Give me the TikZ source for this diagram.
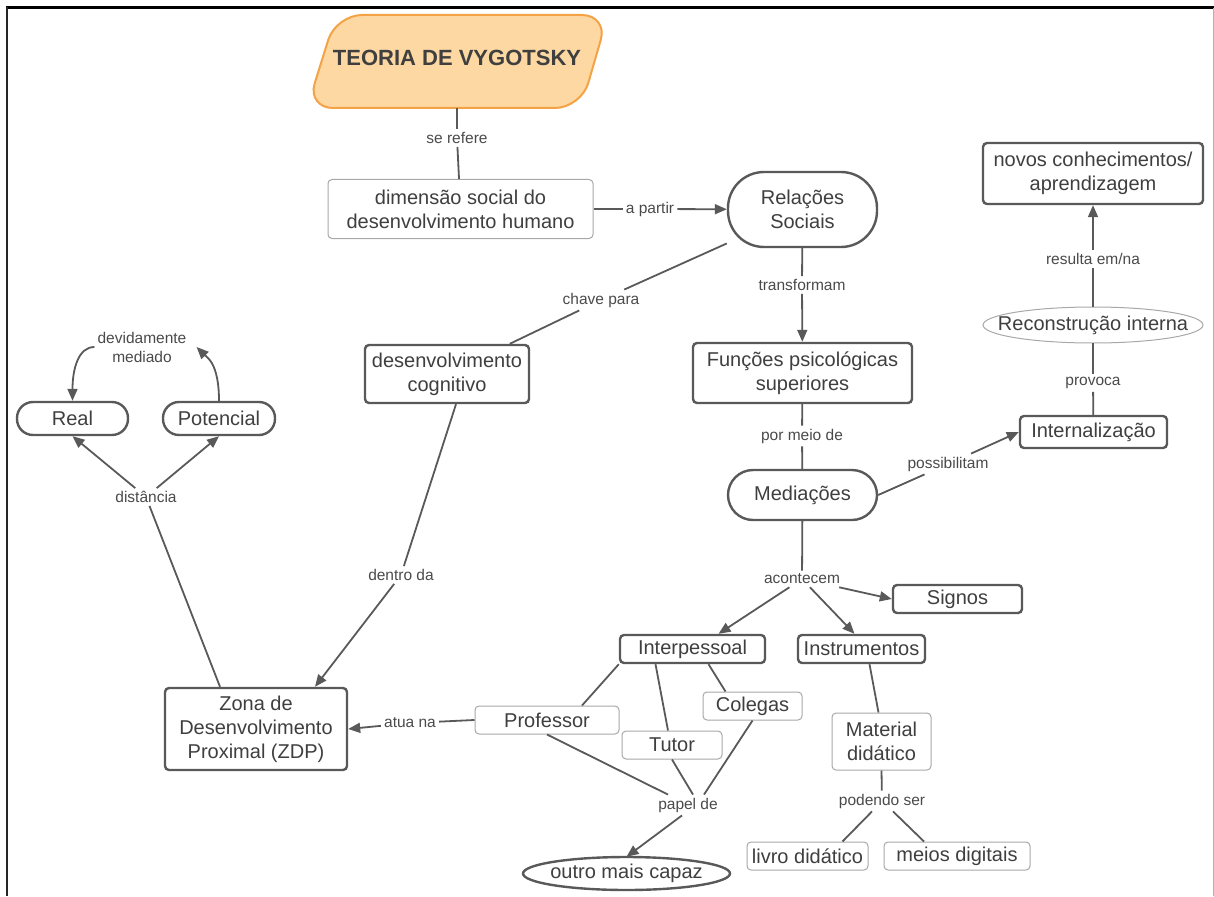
\documentclass[tikz,border=0pt]{standalone}
\usepackage{fontspec}
\setmainfont{Liberation Sans}
\usetikzlibrary{arrows.meta}
\definecolor{edgec}{HTML}{595959}
\definecolor{thinc}{HTML}{A8A8A8}
\definecolor{txtc}{HTML}{3F3F3F}
\definecolor{lblc}{HTML}{4A4A4A}
\definecolor{titlefill}{HTML}{FDD8A2}
\definecolor{titledraw}{HTML}{F4A246}
\newcommand\mainsize{\fontsize{20}{24}\selectfont}
\newcommand\lblsize{\fontsize{15.5}{19}\selectfont}
\begin{document}
\begin{tikzpicture}[x=1pt,y=-1pt,
  base/.style={align=center,inner sep=0pt,text=txtc,font=\mainsize,fill=white},
  thickbox/.style={base,draw=edgec,line width=2.4pt,rounded corners=4pt},
  thinbox/.style={base,draw=thinc,line width=1pt,rounded corners=4pt},
  pill/.style={base,draw=edgec,line width=2.4pt,rounded corners=#1},
  oval/.style={align=center,inner sep=0pt,text=txtc,font=\mainsize},
  lbl/.style={font=\lblsize,text=lblc,inner sep=3pt,align=center},
  conn/.style={draw=edgec,line width=1.8pt},
  arr/.style={conn,-{Triangle[length=12pt,width=10pt]}},
  sz/.style n args={2}{minimum width=#1,minimum height=#2},
]
\useasboundingbox (0,0) rectangle (1214,896);

% frame
\draw[line width=2.5pt,black] (6,7.5) -- (1214,7.5);
\draw[line width=2pt,black!85] (7,7) -- (7,896);
\draw[line width=1pt,black!30] (1213,8) -- (1213,896);

% title
\draw[draw=titledraw,fill=titlefill,line width=2pt,rounded corners=26pt]
  (336,15) -- (608,15) -- (581,108) -- (307,108) -- cycle;
\node[inner sep=0pt,sz={300}{100},text=txtc,font=\fontsize{22}{26}\selectfont\bfseries]
  (teoria) at (457,58) {TEORIA DE VYGOTSKY};

% oval outlines
\draw[draw=thinc,line width=1pt,fill=white] (1093,325) ellipse [x radius=110, y radius=18];
\draw[draw=edgec,line width=2.4pt,fill=white] (626.5,873.5) ellipse [x radius=103.5, y radius=16.5];

% concepts
\node[thinbox,sz={265}{59}] (dim) at (460.5,209) {dimensão social do\\desenvolvimento humano};
\node[pill=36pt,sz={149}{75}] (rel) at (802.5,209.5) {Relações\\Sociais};
\node[thickbox,sz={220}{61}] (novos) at (1093,173.5) {novos conhecimentos/\\aprendizagem};
\node[oval,sz={200}{36}] (recon) at (1093,325) {Reconstrução interna};
\node[thickbox,sz={147}{32}] (intern) at (1093.5,432) {Internalização};
\node[thickbox,sz={219}{60}] (func) at (802.5,373) {Funções psicológicas\\superiores};
\node[pill=25pt,sz={149}{50}] (med) at (802.5,495) {Mediações};
\node[thickbox,sz={164}{58}] (desc) at (447,374) {desenvolvimento\\cognitivo};
\node[pill=16pt,sz={111}{33}] (real) at (72.5,418.5) {Real};
\node[pill=16pt,sz={112}{33}] (pot) at (219,418.5) {Potencial};
\node[thickbox,sz={182}{82}] (zdp) at (256,729) {Zona de\\Desenvolvimento\\Proximal (ZDP)};
\node[thinbox,sz={144}{28}] (prof) at (547,720) {Professor};
\node[thickbox,sz={145}{28}] (interp) at (692.5,649) {Interpessoal};
\node[thinbox,sz={99}{28}] (coleg) at (752.5,706) {Colegas};
\node[thinbox,sz={100}{28}] (tutor) at (672,745) {Tutor};
\node[oval,sz={190}{33}] (outro) at (626.5,873.5) {outro mais capaz};
\node[thickbox,sz={127}{28}] (instr) at (861.5,649) {Instrumentos};
\node[thickbox,sz={129}{28}] (signos) at (957.5,599) {Signos};
\node[thinbox,sz={99}{57}] (mat) at (881.5,741.5) {Material\\didático};
\node[thinbox,sz={121}{28}] (livro) at (807.5,856) {livro didático};
\node[thinbox,sz={146}{28}] (meios) at (957,856) {meios digitais};

% link phrases
\node[lbl] (lse) at (457,138) {se refere};
\node[lbl] (lap) at (650,209) {a partir};
\node[lbl] (ltr) at (802,285) {transformam};
\node[lbl] (lch) at (601,300) {chave para};
\node[lbl] (lpm) at (802,436) {por meio de};
\node[lbl] (lpo) at (948,464) {possibilitam};
\node[lbl] (lpr) at (1093,383) {provoca};
\node[lbl] (lre) at (1093,259) {resulta em/na};
\node[lbl] (ldv) at (142,347) {devidamente\\mediado};
\node[lbl] (ldi) at (146,497) {distância};
\node[lbl] (lde) at (401,575) {dentro da};
\node[lbl] (lat) at (410,723) {atua na};
\node[lbl] (lac) at (802,579) {acontecem};
\node[lbl] (lpa) at (688,805) {papel de};
\node[lbl] (lpd) at (882,801) {podendo ser};

% connectors
\draw[conn] (teoria) -- (lse);
\draw[conn] (lse) -- (dim);
\draw[conn] (dim) -- (lap);
\draw[arr] (lap) -- (rel);
\draw[conn] (rel) -- (ltr);
\draw[arr] (ltr) -- (func);
\draw[conn] (rel) -- (lch);
\draw[conn] (lch) -- (desc);
\draw[conn] (func) -- (lpm);
\draw[conn] (lpm) -- (med);
\draw[conn] (med.east) -- (lpo);
\draw[arr] (lpo) -- (intern.west);
\draw[conn] (intern) -- (lpr);
\draw[conn] (lpr) -- (recon);
\draw[conn] (recon) -- (lre);
\draw[arr] (lre) -- (novos);

\draw[arr] (pot.north) .. controls +(0,-38) and +(10,10) .. ([xshift=7pt]ldv.east);
\draw[arr] (ldv.west) .. controls +(-16,0) and +(0,-32) .. (real.north);
\draw[conn] ([xshift=-36pt]zdp.north) -- (ldi);
\draw[arr] (ldi) -- (real.south);
\draw[arr] (ldi) -- (pot.south);
\draw[conn] ([xshift=9pt]desc.south) -- (lde);
\draw[arr] (lde) -- ([xshift=59pt]zdp.north);
\draw[conn] (prof.west) -- (lat);
\draw[arr] (lat) -- (zdp.east);

\draw[conn] (med) -- (lac);
\draw[arr] (lac) -- ([xshift=26pt]interp.north);
\draw[arr] (lac) -- ([xshift=-7pt]instr.north);
\draw[arr] (lac) -- (signos.west);
\draw[conn] (interp.south west) -- ([xshift=35pt]prof.north);
\draw[conn] ([xshift=-37pt]interp.south) -- ([xshift=-4pt]tutor.north);
\draw[conn] ([xshift=16pt]interp.south) -- ([xshift=-27pt]coleg.north);
\draw[conn] (prof.south) -- ([xshift=-20pt]lpa.north);
\draw[conn] (tutor.south) -- ([xshift=5pt]lpa.north);
\draw[conn] (coleg.south) -- ([xshift=16pt]lpa.north);
\draw[arr] ([xshift=-6pt]lpa.south) -- (outro.north);
\draw[conn] ([xshift=8pt]instr.south) -- ([xshift=-3pt]mat.north);
\draw[conn] (mat.south) -- (lpd);
\draw[conn] ([xshift=-10pt]lpd.south) -- ([xshift=35pt]livro.north);
\draw[conn] ([xshift=11pt]lpd.south) -- ([xshift=-33pt]meios.north);
\end{tikzpicture}
\end{document}
